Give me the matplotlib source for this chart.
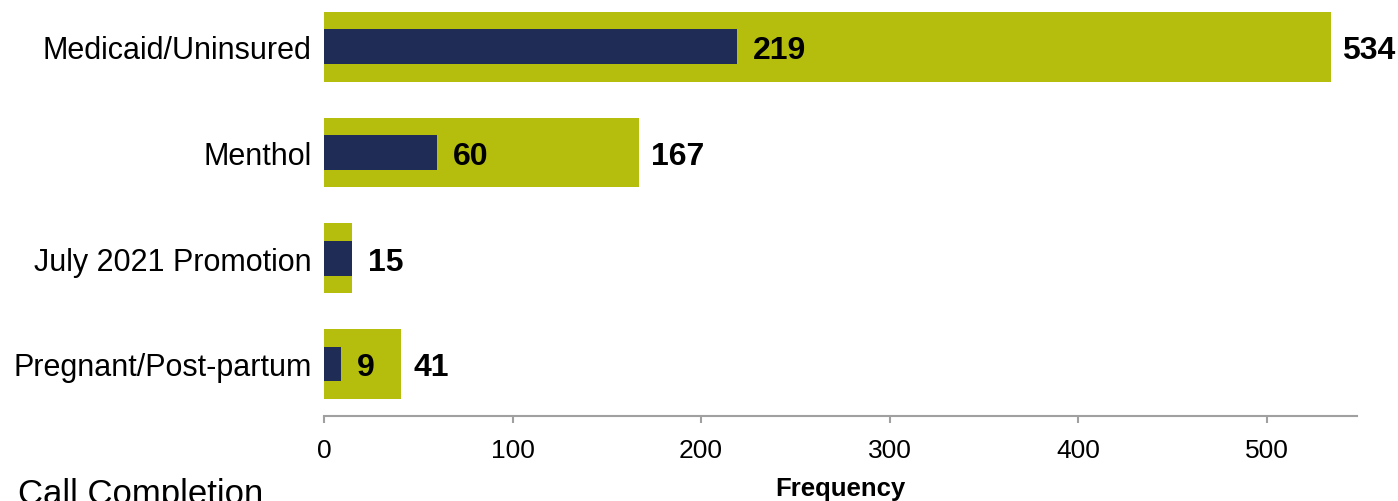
import matplotlib
matplotlib.use("Agg")
import matplotlib.pyplot as plt

categories = ["Medicaid/Uninsured", "Menthol", "July 2021 Promotion", "Pregnant/Post-partum"]
total_calls = [534, 167, 15, 41]
completed_calls = [219, 60, 15, 9]
xticks = [0, 100, 200, 300, 400, 500]

olive = "#B5BE0C"
navy = "#1F2C55"

plt.rcParams['font.family'] = ['Liberation Sans', 'DejaVu Sans']

fig = plt.figure(figsize=(13.98, 5.02), dpi=100)
ax = fig.add_axes([324/1398, 85/502, 1033/1398, 417/502])

ypos = list(range(len(categories)))
ax.barh(ypos, total_calls, height=0.66, color=olive)
ax.barh(ypos, completed_calls, height=0.33, color=navy)

for y, t, c in zip(ypos, total_calls, completed_calls):
    ax.annotate(str(c), xy=(c, y), xytext=(11.5, 0), textcoords="offset points",
                va="center_baseline", ha="left", fontsize=23, fontweight="bold", color="black")
    if t != c:
        ax.annotate(str(t), xy=(t, y), xytext=(8.5, 0), textcoords="offset points",
                    va="center_baseline", ha="left", fontsize=23, fontweight="bold", color="black")

ax.set_xlim(0, 548)
ax.set_ylim(3.492, -0.453)
ax.set_yticks(ypos)
ax.set_yticklabels(categories, fontsize=22)
ax.set_xticks(xticks)
ax.set_xticklabels([str(v) for v in xticks], fontsize=19)
ax.tick_params(axis="y", length=0, pad=9)
ax.tick_params(axis="x", length=5, width=1.5, color="#A0A0A0", pad=11)
for s in ["top", "right", "left"]:
    ax.spines[s].set_visible(False)
ax.spines["bottom"].set_color("#A0A0A0")
ax.spines["bottom"].set_linewidth(1.5)
ax.set_xlabel("Frequency", fontsize=18.5, fontweight="bold", labelpad=10)

fig.text(18/1398, -2/502, "Call Completion", fontsize=25, ha="left", va="baseline")

fig.savefig("out.png", dpi=100)
